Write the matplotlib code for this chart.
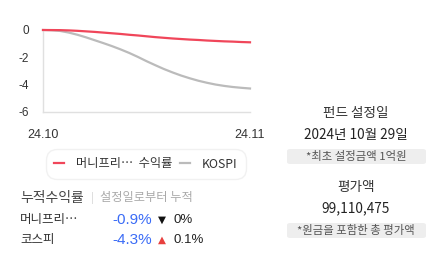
import matplotlib
matplotlib.use("Agg")
import matplotlib.pyplot as plt
from matplotlib.patches import FancyBboxPatch

plt.rcParams['font.family'] = ['Noto Sans CJK KR', 'DejaVu Sans']

# ---- data ----
x_pos = [0, 0.5, 1, 1.5, 2, 2.5, 3, 3.5, 4, 4.5, 5, 5.5, 6, 6.5, 7, 7.5, 8, 8.5, 9, 9.5, 10, 10.5, 11, 11.5, 12]
fund_values = [0, -0.005, -0.01, -0.03, -0.06, -0.10, -0.14, -0.19, -0.24, -0.29, -0.35, -0.40, -0.46,
               -0.52, -0.57, -0.62, -0.66, -0.70, -0.73, -0.77, -0.80, -0.83, -0.85, -0.88, -0.90]
kospi_values = [0, -0.02, -0.07, -0.19, -0.35, -0.54, -0.75, -0.96, -1.18, -1.42, -1.68, -1.97, -2.28,
                -2.57, -2.85, -3.10, -3.33, -3.53, -3.71, -3.86, -3.99, -4.09, -4.17, -4.23, -4.28]
x_tick_pos = [0, 12]
x_tick_labels = ["24.10", "24.11"]
y_ticks = [0, -2, -4, -6]
series_names = ["머니프리…  수익률", "KOSPI"]
row_names = ["머니프리…", "코스피"]
row_returns = ["-0.9%", "-4.3%"]
row_change_marks = ["▼", "▲"]
row_changes = ["0%", "0.1%"]
setup_date = "2024년 10월 29일"
eval_amount = "99,110,475"

W, H = 434, 260
fig = plt.figure(figsize=(W / 100, H / 100), dpi=100)

def fx(px):
    return px / W

def fy(py):
    return 1 - py / H

ax = fig.add_axes([fx(43), fy(112), fx(250) - fx(43), fy(30) - fy(112)])
RED = "#f0465a"
GRAY = "#bbbbbb"
l1, = ax.plot(x_pos, fund_values, color=RED, lw=1.6, clip_on=False, zorder=3)
l2, = ax.plot(x_pos, kospi_values, color=GRAY, lw=1.6, clip_on=False, zorder=2)
ax.set_xlim(0, 12)
ax.set_ylim(-6, 0)
ax.set_yticks(y_ticks)
ax.set_yticklabels([str(v) for v in y_ticks], family="Liberation Sans", fontsize=8.5, color="#333333")
ax.set_xticks(x_tick_pos)
ax.set_xticklabels(x_tick_labels, family="Liberation Sans", fontsize=9, color="#333333")
ax.tick_params(axis='y', length=0, pad=10)
ax.tick_params(axis='x', length=0, pad=12)
for s in ["top", "right"]:
    ax.spines[s].set_visible(False)
for s in ["left", "bottom"]:
    ax.spines[s].set_color("#e0e0e0")
    ax.spines[s].set_linewidth(1)

# legend
leg = fig.legend([l1, l2], series_names, loc="center", bbox_to_anchor=(fx(146), fy(164)),
                 ncol=2, fontsize=8.8, frameon=True, fancybox=True, edgecolor="#eeeeee",
                 handlelength=0.8, handletextpad=1.0, columnspacing=0.6,
                 borderpad=0.5, labelcolor="#333333")
leg.get_frame().set_linewidth(1)
leg.get_frame().set_boxstyle("round,pad=0.2,rounding_size=0.9")

# bottom-left summary
fig.text(fx(20), fy(198), "누적수익률", fontsize=10, color="#444444", va="center", ha="left", weight="medium")
fig.text(fx(91), fy(198), "|", fontsize=7, color="#cccccc", va="center", ha="left")
fig.text(fx(100), fy(198), "설정일로부터 누적", fontsize=8.8, color="#aaaaaa", va="center", ha="left")
BLUE = "#3b6cf6"
row_y = [220, 240]
mark_colors = ["#111111", "#e8403e"]
for i in range(2):
    fig.text(fx(20), fy(row_y[i]), row_names[i], fontsize=9, color="#333333", va="center", ha="left")
    fig.text(fx(152), fy(row_y[i]), row_returns[i], fontsize=11, color=BLUE, va="center", ha="right",
             family="Liberation Sans")
    fig.text(fx(157.5), fy(row_y[i]), row_change_marks[i], fontsize=7.5, color=mark_colors[i], va="center",
             ha="left", family="DejaVu Sans")
    fig.text(fx(173), fy(row_y[i]), row_changes[i], fontsize=9.5, color="#222222", va="center", ha="left",
             family="Liberation Sans")

# right side info
cx = fx(356)
fig.text(cx, fy(113), "펀드 설정일", fontsize=9.8, color="#333333", ha="center", va="center")
fig.text(cx, fy(135), setup_date, fontsize=9.8, color="#222222", ha="center", va="center")
fig.text(cx, fy(187), "평가액", fontsize=9.8, color="#333333", ha="center", va="center")
fig.text(cx, fy(208), eval_amount, fontsize=9.8, color="#222222", ha="center", va="center")
for yc, txt in [(156.5, "*최초 설정금액 1억원"), (230.5, "*원금을 포함한 총 평가액")]:
    box = FancyBboxPatch((fx(287), fy(yc + 7.5)), fx(426) - fx(287), fy(yc - 7.5) - fy(yc + 7.5),
                         boxstyle="round,pad=0,rounding_size=0.008", transform=fig.transFigure,
                         facecolor="#eeeeee", edgecolor="none")
    fig.patches.append(box)
    fig.text(cx, fy(yc), txt, fontsize=8.2, color="#555555", ha="center", va="center")

fig.savefig("out.png", dpi=100)
